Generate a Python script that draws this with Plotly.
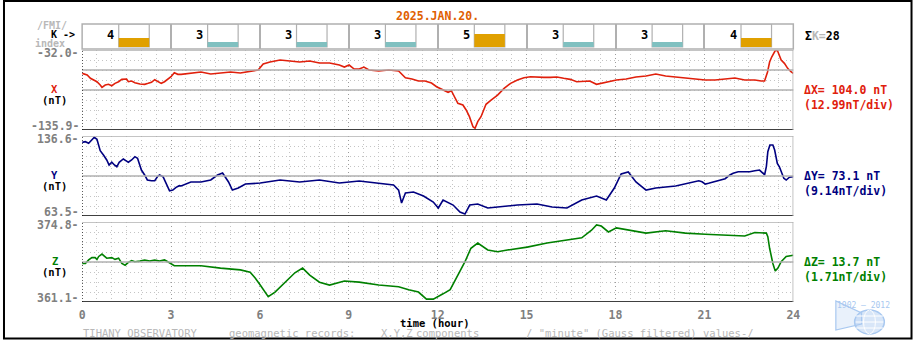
import plotly.graph_objects as go

W, H = 920, 340
FONT = "DejaVu Sans Mono"

# ---------------- data ----------------
date_label = "2025.JAN.20."
k_start_hours = [0, 3, 6, 9, 12, 15, 18, 21]
k_values = [4, 3, 3, 3, 5, 3, 3, 4]

components = ["X", "Y", "Z"]
comp_top = [-32.0, 136.6, 374.8]
comp_bottom = [-135.9, 63.5, 361.1]
comp_delta = [104.0, 73.1, 13.7]
comp_per_div = [12.99, 9.14, 1.71]
hour_ticks = [0, 3, 6, 9, 12, 15, 18, 21, 24]

x_hours = [0.00,0.17,0.28,0.39,0.50,0.61,0.67,0.78,0.89,1.00,1.11,1.23,1.34,1.50,1.56,1.67,1.78,1.95,2.11,2.23,
           2.34,2.45,2.56,2.67,2.78,2.89,3.00,3.11,3.23,3.34,3.67,4.01,4.34,4.67,5.01,5.34,5.67,5.94,6.11,6.34,
           6.68,7.01,7.34,7.68,8.01,8.35,8.68,8.85,9.01,9.18,9.35,9.51,9.68,10.01,10.35,10.68,10.91,11.13,11.35,11.57,
           11.79,11.96,12.13,12.35,12.46,12.57,12.68,12.85,12.96,13.07,13.19,13.26,13.35,13.46,13.63,13.80,14.02,14.24,14.46,14.69,
           14.91,15.13,15.35,15.58,15.80,16.02,16.25,16.47,16.69,16.91,17.13,17.36,17.69,18.03,18.36,18.69,19.03,19.36,19.69,20.03,
           20.36,20.70,21.03,21.36,21.70,22.03,22.36,22.70,22.92,23.03,23.13,23.20,23.27,23.33,23.40,23.47,23.59,23.70,23.81,23.92,24.00]
x_nt = [-62.3,-64.5,-68.8,-71.0,-73.2,-77.5,-80.5,-77.5,-76.6,-78.4,-75.3,-73.2,-70.1,-69.7,-73.2,-72.3,-74.5,-76.2,-76.6,-75.3,
        -74.0,-70.6,-73.2,-75.3,-73.2,-70.1,-66.7,-61.5,-63.6,-63.6,-61.9,-60.6,-63.2,-61.9,-60.6,-61.9,-59.3,-58.0,-50.2,-47.6,
        -45.0,-46.3,-47.6,-46.3,-48.9,-48.9,-51.5,-54.1,-51.5,-56.7,-56.7,-54.1,-58.0,-59.3,-58.0,-59.3,-68.0,-69.7,-72.3,-72.3,
        -74.9,-79.7,-83.1,-86.9,-84.9,-92.7,-101.2,-103.4,-109.9,-118.6,-131.6,-133.7,-125.1,-118.6,-102.5,-97.0,-90.5,-81.8,-75.3,-71.0,
        -68.0,-66.7,-67.5,-67.5,-67.5,-67.1,-68.8,-70.1,-73.2,-72.3,-72.3,-76.6,-73.6,-71.0,-69.7,-67.1,-65.8,-63.2,-65.8,-67.1,
        -68.4,-69.7,-71.0,-71.0,-69.7,-68.4,-71.0,-71.0,-72.3,-72.3,-60.6,-47.6,-41.1,-35.9,-32.0,-33.3,-45.0,-49.3,-55.8,-60.2,-62.3]

y_hours = [0.00,0.11,0.22,0.33,0.41,0.50,0.56,0.61,0.72,0.83,0.91,1.00,1.09,1.17,1.25,1.39,1.50,1.56,1.67,1.78,
           1.87,1.95,2.00,2.11,2.20,2.34,2.45,2.54,2.61,2.73,2.84,2.95,3.06,3.17,3.28,3.34,3.67,4.01,4.34,4.57,
           4.74,4.94,5.07,5.27,5.51,6.01,6.68,7.34,8.01,8.68,9.35,10.01,10.51,10.68,10.78,10.91,11.18,11.52,11.85,12.02,
           12.18,12.52,12.75,12.92,13.08,13.35,13.69,14.02,14.69,15.35,15.86,16.36,16.86,17.36,17.69,17.96,18.19,18.43,18.69,19.03,
           19.36,20.03,20.70,20.81,20.92,21.03,21.14,21.31,21.47,21.70,21.86,21.97,22.14,22.36,22.53,22.70,22.86,22.98,23.03,23.09,
           23.14,23.21,23.31,23.37,23.46,23.53,23.59,23.68,23.76,23.87,24.00]
y_nt = [130.8,131.4,129.9,132.9,135.4,133.6,128.4,123.2,119.2,114.7,110.1,112.6,110.1,108.5,112.6,115.6,113.7,112.6,114.7,117.7,
        116.2,110.1,105.5,101.0,96.4,95.7,95.7,99.4,101.0,99.4,93.4,86.6,87.2,89.7,91.2,90.9,94.6,94.6,96.4,100.9,
        102.8,94.6,87.2,89.1,92.7,93.6,96.4,94.6,96.4,93.6,95.5,93.6,91.8,87.2,75.4,84.5,85.4,81.8,76.3,70.8,
        78.1,73.5,67.1,65.3,73.5,74.4,70.8,71.7,73.5,74.4,71.7,70.8,78.1,81.8,78.1,89.1,101.9,103.7,94.6,87.2,
        89.1,90.9,94.8,95.7,94.8,92.7,93.4,94.8,95.7,97.6,101.0,102.5,104.0,103.7,104.0,104.9,105.5,102.5,101.0,108.5,
        122.3,128.4,128.4,123.8,111.6,108.5,104.0,97.9,96.4,98.9,99.4]

z_hours = [0.00,0.11,0.22,0.33,0.44,0.50,0.56,0.67,0.76,0.83,1.00,1.11,1.23,1.34,1.45,1.56,1.67,1.78,1.95,2.11,
           2.28,2.45,2.61,2.78,2.89,3.00,3.11,3.34,4.01,4.67,5.34,5.67,5.84,6.01,6.18,6.28,6.51,6.84,7.18,7.44,
           7.68,8.01,8.35,8.85,9.35,10.01,10.68,11.02,11.35,11.62,11.85,12.18,12.42,12.68,12.92,13.12,13.35,13.69,14.02,14.35,
           15.02,15.69,16.36,16.86,17.19,17.36,17.52,17.76,18.03,18.53,19.03,19.69,20.36,21.03,21.70,22.36,22.70,22.92,23.09,23.14,
           23.20,23.31,23.39,23.48,23.59,23.76,23.92,24.00]
z_nt = [367.7,367.7,368.3,368.7,368.7,368.4,368.9,369.3,368.9,368.6,368.7,368.4,368.6,367.7,367.4,367.9,368.2,368.0,368.1,368.3,
        368.1,368.3,368.1,368.3,368.0,367.6,367.3,367.3,367.3,366.9,366.6,366.2,365.2,364.0,362.6,362.0,362.8,364.4,366.1,366.9,
        365.7,364.5,364.0,364.7,364.5,364.0,363.7,363.2,362.8,361.6,361.6,362.5,363.2,365.7,368.0,370.3,371.2,370.0,369.7,370.0,
        370.5,371.2,371.7,372.1,373.4,374.3,374.1,373.1,373.8,373.3,372.9,373.3,372.9,372.7,372.6,372.4,373.0,373.0,372.9,372.3,
        370.3,367.7,366.4,366.9,368.0,368.9,369.1,369.1]

footer_parts = ["TIHANY OBSERVATORY", "geomagnetic records:", "X,Y,Z", "components",
                "/ \"minute\" (Gauss filtered) values-/"]

# ---------------- styling / layout ----------------
comp_colors = ["#e0200c", "#000080", "#008000"]
K_HIGH, K_LOW = "#e0a000", "#80c0c0"
GRID_MINOR = "#c4c4c4"
GRID_MAJOR = "#9c9c9c"
LINE_GRAY = "#b0b0b0"
TXT_GRAY = "#808080"
LIGHT_GRAY = "#b8b8b8"
LOGO = "#a8c8f0"
DOTS = "1px,3px"
FS = 10.5

PLOT_L, PLOT_R = 80, 799
panel_px = [(50, 130), (136, 216), (222, 302)]
k_px = (24, 49)
K_BASE, K_TOP, K_BOT = 1.75, 7.5, 1.25


def px(x):
    return x / W


def py(y):
    return 1 - y / H


def dom(top, bot):
    return [py(bot), py(top)]


def bold(color, size=FS):
    return dict(family=FONT, size=size, color=color, weight="bold")


series = [(x_hours, x_nt), (y_hours, y_nt), (z_hours, z_nt)]
fig = go.Figure()
layout = dict(width=W, height=H, margin=dict(l=0, r=0, t=0, b=0),
              paper_bgcolor="white", plot_bgcolor="white", showlegend=False,
              barmode="overlay")
shapes, annotations = [], []

for i, comp in enumerate(components):
    n = "" if i == 0 else str(i + 1)
    xr, yr = "x" + n, "y" + n
    top, bot = comp_top[i], comp_bottom[i]
    div = (top - bot) / 8
    layout["xaxis" + n] = dict(domain=[px(PLOT_L), px(PLOT_R)], range=[0, 24], anchor=yr,
                               tick0=0, dtick=3, showgrid=True, gridcolor=GRID_MAJOR, griddash=DOTS,
                               gridwidth=1, zeroline=False, showline=False, ticks="",
                               minor=dict(dtick=0.5, showgrid=True, gridcolor=GRID_MINOR, griddash=DOTS, gridwidth=1),
                               showticklabels=(i == 2),
                               tickfont=bold(TXT_GRAY, 11.5),
                               fixedrange=True)
    layout["yaxis" + n] = dict(domain=dom(*panel_px[i]), range=[bot, top], anchor=xr,
                               tick0=bot, dtick=div, showgrid=True, gridcolor=GRID_MINOR, griddash=DOTS,
                               zeroline=False, showticklabels=False, ticks="", fixedrange=True)
    hrs, vals = series[i]
    fig.add_trace(go.Scatter(x=hrs, y=vals, mode="lines", xaxis=xr, yaxis=yr,
                             line=dict(color=comp_colors[i], width=1.6), hoverinfo="skip"))
    mid = (top + bot) / 2
    shapes.append(dict(type="line", xref=xr + " domain", x0=0, x1=1, yref=yr, y0=top, y1=top,
                       line=dict(color=LINE_GRAY, width=1.5)))
    shapes.append(dict(type="line", xref=xr + " domain", x0=0, x1=1, yref=yr, y0=mid, y1=mid,
                       line=dict(color=LINE_GRAY, width=1.5)))
    if i == 0:
        shapes.append(dict(type="line", xref=xr + " domain", x0=0, x1=1, yref=yr, y0=top - 2 * div, y1=top - 2 * div,
                           line=dict(color=LINE_GRAY, width=1.5)))
    shapes.append(dict(type="line", xref=xr + " domain", x0=0, x1=1, yref=yr, y0=bot, y1=bot,
                       line=dict(color="black", width=1.6)))
    shapes.append(dict(type="line", xref=xr, x0=0, x1=0, yref=yr + " domain", y0=0, y1=1,
                       line=dict(color="black", width=1.2, dash="1px,2px")))
    shapes.append(dict(type="line", xref=xr, x0=24, x1=24, yref=yr + " domain", y0=0, y1=1,
                       line=dict(color=LINE_GRAY, width=1.5)))
    annotations.append(dict(xref="paper", x=px(79), xanchor="right", yref=yr, y=top, yanchor="middle", yshift=-3,
                            text=f"{top:.1f}-", showarrow=False, font=bold(TXT_GRAY, 11.5)))
    annotations.append(dict(xref="paper", x=px(79), xanchor="right", yref=yr, y=bot, yanchor="middle", yshift=4,
                            text=f"{bot:.1f}-", showarrow=False, font=bold(TXT_GRAY, 11.5)))
    annotations.append(dict(xref="paper", x=px(52.5), xanchor="center", yref=yr, y=mid, yanchor="middle", yshift=1,
                            text=comp, showarrow=False, font=bold(comp_colors[i])))
    annotations.append(dict(xref="paper", x=px(52.5), xanchor="center", yref=yr, y=mid, yanchor="middle", yshift=-9.5,
                            text="(nT)", showarrow=False, font=bold("black")))
    annotations.append(dict(xref="paper", x=px(808), xanchor="left", yref=yr, y=mid, yanchor="middle", yshift=0.5,
                            text=f"Δ{comp}= {comp_delta[i]:.1f} nT", showarrow=False,
                            font=bold(comp_colors[i], 11.5)))
    annotations.append(dict(xref="paper", x=px(808), xanchor="left", yref=yr, y=mid, yanchor="middle", yshift=-14.5,
                            text=f"({comp_per_div[i]:.2f}nT/div)", showarrow=False,
                            font=bold(comp_colors[i], 11.5)))

layout["xaxis3"]["tickvals"] = hour_ticks
layout["xaxis3"]["ticktext"] = [str(h) for h in hour_ticks]
layout["xaxis3"]["ticklabelstandoff"] = 4

# K-index row
layout["xaxis4"] = dict(domain=[px(PLOT_L), px(PLOT_R)], range=[0, 24], anchor="y4", tick0=0, dtick=3,
                        showgrid=True, gridcolor=LINE_GRAY, gridwidth=1.5, zeroline=False,
                        showticklabels=False, ticks="", fixedrange=True)
layout["yaxis4"] = dict(domain=dom(*k_px), range=[K_BOT, K_TOP], anchor="x4", showgrid=False,
                        zeroline=False, showticklabels=False, ticks="", fixedrange=True)
bar_x = [h + 1.75 for h in k_start_hours]
fig.add_trace(go.Bar(x=bar_x, y=[K_TOP - K_BASE] * len(k_values), base=K_BASE, width=1.03,
                     xaxis="x4", yaxis="y4", marker=dict(color="rgba(0,0,0,0)", line=dict(color=LINE_GRAY, width=1.2)),
                     hoverinfo="skip"))
fig.add_trace(go.Bar(x=bar_x, y=[k - K_BASE for k in k_values], base=K_BASE, width=1.03,
                     xaxis="x4", yaxis="y4",
                     marker=dict(color=[K_HIGH if k >= 4 else K_LOW for k in k_values], line=dict(width=0)),
                     hoverinfo="skip"))
shapes.append(dict(type="rect", xref="x4 domain", x0=0, x1=1, yref="y4 domain", y0=0, y1=1,
                   line=dict(color=LINE_GRAY, width=1.5)))
for h, k in zip(k_start_hours, k_values):
    annotations.append(dict(xref="x4", x=h + 0.97, yref="y4", y=4.75, text=str(k), showarrow=False,
                            xanchor="center", yanchor="middle", font=bold("black", 12)))
annotations.append(dict(xref="paper", x=px(809), xanchor="left", yref="paper", y=py(36), yanchor="middle",
                        text=f"Σ<span style='color:{LIGHT_GRAY}'>K=</span>{sum(k_values)}", showarrow=False,
                        font=bold("black", 11.5)))

# header texts
annotations.append(dict(xref="paper", x=px(439), xanchor="center", yref="paper", y=py(16), yanchor="middle",
                        text=date_label, showarrow=False, font=bold("#e06000", 11.5)))
for txt, xx, yy, col in [("/FMI/", 67, 26, LIGHT_GRAY), ("K ->", 75, 35, "black"), ("index", 65, 44, LIGHT_GRAY)]:
    annotations.append(dict(xref="paper", x=px(xx), xanchor="right", yref="paper", y=py(yy), yanchor="middle",
                            text=txt, showarrow=False, font=bold(col, 10)))

# bottom texts
annotations.append(dict(xref="paper", x=px(437), xanchor="center", yref="paper", y=py(323), yanchor="middle",
                        text="time (hour)", showarrow=False, font=bold("black", 10.5)))
for txt, xx in zip(footer_parts, [79, 226, 380, 416, 527]):
    annotations.append(dict(xref="paper", x=px(xx), xanchor="left", yref="paper", y=py(333), yanchor="middle",
                            text=txt, showarrow=False, font=dict(family=FONT, size=10.5, color=LIGHT_GRAY)))

# logo (decoration)
annotations.append(dict(xref="paper", x=px(870), xanchor="center", yref="paper", y=py(305), yanchor="middle",
                        text="1902 — 2012", showarrow=False, font=dict(family=FONT, size=8, color=LOGO)))
shapes.append(dict(type="path", xref="paper", yref="paper",
                   path=f"M {px(842)},{py(301)} L {px(842)},{py(330)} L {px(868)},{py(324)} L {px(868)},{py(313)} Z",
                   line=dict(color=LOGO, width=1.2), fillcolor="rgba(168,200,240,0.25)"))
shapes.append(dict(type="circle", xref="paper", yref="paper", x0=px(861), x1=px(891), y0=py(334), y1=py(310),
                   line=dict(color=LOGO, width=1.5), fillcolor="rgba(168,200,240,0.45)"))
shapes.append(dict(type="circle", xref="paper", yref="paper", x0=px(870), x1=px(882), y0=py(334), y1=py(310),
                   line=dict(color="white", width=1)))
for yy in [316, 322, 328]:
    shapes.append(dict(type="line", xref="paper", yref="paper", x0=px(862), x1=px(890), y0=py(yy), y1=py(yy),
                       line=dict(color="white", width=1)))

# outer frame
shapes.append(dict(type="rect", xref="paper", yref="paper", x0=px(1), x1=px(918.5), y0=py(338.5), y1=py(1),
                   line=dict(color="black", width=2)))

layout["shapes"] = shapes
layout["annotations"] = annotations
fig.update_layout(**layout)
fig.write_html("out.html")
